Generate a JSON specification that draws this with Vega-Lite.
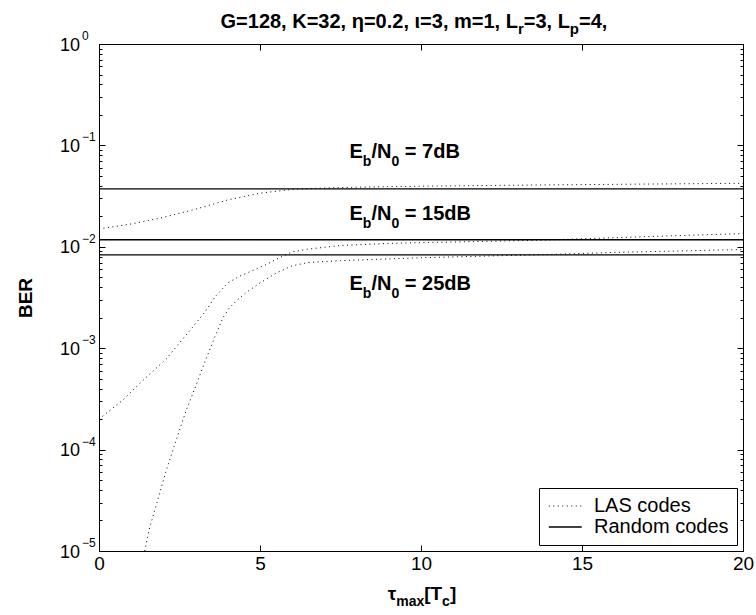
{
  "$schema": "https://vega.github.io/schema/vega-lite/v6.json",
  "autosize": {"type": "none"},
  "width": 644,
  "height": 507,
  "padding": {"left": 99, "top": 44, "right": 13, "bottom": 64},
  "background": "white",
  "config": {
    "view": {"stroke": "black", "strokeWidth": 1},
    "font": "Liberation Sans",
    "axis": {"grid": false, "domainColor": "black", "tickColor": "black", "labelColor": "black", "titleColor": "black", "labelFont": "Liberation Sans", "titleFont": "Liberation Sans"},
    "legend": {"orient": "bottom-right", "offset": 6, "strokeColor": "black", "fillColor": "white", "padding": 8, "symbolType": "M-1,0H3", "symbolSize": 272, "symbolStrokeColor": "black", "symbolStrokeWidth": 1, "labelFontSize": 20, "labelFont": "Liberation Sans", "labelColor": "black", "rowPadding": 1, "labelOffset": 27}
  },
  "datasets": {
    "curves": [
      {"x": 0, "ber": 0.0150, "series": "LAS7", "type": "LAS codes"},
      {"x": 1, "ber": 0.0168, "series": "LAS7", "type": "LAS codes"},
      {"x": 2, "ber": 0.0195, "series": "LAS7", "type": "LAS codes"},
      {"x": 3, "ber": 0.0235, "series": "LAS7", "type": "LAS codes"},
      {"x": 4, "ber": 0.0290, "series": "LAS7", "type": "LAS codes"},
      {"x": 5, "ber": 0.0338, "series": "LAS7", "type": "LAS codes"},
      {"x": 6, "ber": 0.0368, "series": "LAS7", "type": "LAS codes"},
      {"x": 7, "ber": 0.0380, "series": "LAS7", "type": "LAS codes"},
      {"x": 8, "ber": 0.0387, "series": "LAS7", "type": "LAS codes"},
      {"x": 9, "ber": 0.0392, "series": "LAS7", "type": "LAS codes"},
      {"x": 10, "ber": 0.0396, "series": "LAS7", "type": "LAS codes"},
      {"x": 12, "ber": 0.0402, "series": "LAS7", "type": "LAS codes"},
      {"x": 14, "ber": 0.0408, "series": "LAS7", "type": "LAS codes"},
      {"x": 16, "ber": 0.0413, "series": "LAS7", "type": "LAS codes"},
      {"x": 18, "ber": 0.0418, "series": "LAS7", "type": "LAS codes"},
      {"x": 20, "ber": 0.0423, "series": "LAS7", "type": "LAS codes"},
      {"x": 0, "ber": 0.00020, "series": "LAS15", "type": "LAS codes"},
      {"x": 0.75, "ber": 0.00031, "series": "LAS15", "type": "LAS codes"},
      {"x": 1.33, "ber": 0.00047, "series": "LAS15", "type": "LAS codes"},
      {"x": 2.1, "ber": 0.00079, "series": "LAS15", "type": "LAS codes"},
      {"x": 2.46, "ber": 0.00109, "series": "LAS15", "type": "LAS codes"},
      {"x": 2.9, "ber": 0.0016, "series": "LAS15", "type": "LAS codes"},
      {"x": 3.3, "ber": 0.0023, "series": "LAS15", "type": "LAS codes"},
      {"x": 3.6, "ber": 0.0032, "series": "LAS15", "type": "LAS codes"},
      {"x": 4.0, "ber": 0.0044, "series": "LAS15", "type": "LAS codes"},
      {"x": 4.35, "ber": 0.0051, "series": "LAS15", "type": "LAS codes"},
      {"x": 4.7, "ber": 0.0057, "series": "LAS15", "type": "LAS codes"},
      {"x": 5.2, "ber": 0.0067, "series": "LAS15", "type": "LAS codes"},
      {"x": 5.6, "ber": 0.0078, "series": "LAS15", "type": "LAS codes"},
      {"x": 6.0, "ber": 0.0089, "series": "LAS15", "type": "LAS codes"},
      {"x": 6.5, "ber": 0.0095, "series": "LAS15", "type": "LAS codes"},
      {"x": 7.5, "ber": 0.0103, "series": "LAS15", "type": "LAS codes"},
      {"x": 9, "ber": 0.0108, "series": "LAS15", "type": "LAS codes"},
      {"x": 10, "ber": 0.0110, "series": "LAS15", "type": "LAS codes"},
      {"x": 12, "ber": 0.0113, "series": "LAS15", "type": "LAS codes"},
      {"x": 14, "ber": 0.0117, "series": "LAS15", "type": "LAS codes"},
      {"x": 16, "ber": 0.0123, "series": "LAS15", "type": "LAS codes"},
      {"x": 18, "ber": 0.0129, "series": "LAS15", "type": "LAS codes"},
      {"x": 20, "ber": 0.0135, "series": "LAS15", "type": "LAS codes"},
      {"x": 1.42, "ber": 0.00001, "series": "LAS25", "type": "LAS codes"},
      {"x": 1.55, "ber": 0.000016, "series": "LAS25", "type": "LAS codes"},
      {"x": 1.8, "ber": 0.00003, "series": "LAS25", "type": "LAS codes"},
      {"x": 2.1, "ber": 0.000064, "series": "LAS25", "type": "LAS codes"},
      {"x": 2.4, "ber": 0.000125, "series": "LAS25", "type": "LAS codes"},
      {"x": 2.7, "ber": 0.00024, "series": "LAS25", "type": "LAS codes"},
      {"x": 3.0, "ber": 0.00042, "series": "LAS25", "type": "LAS codes"},
      {"x": 3.3, "ber": 0.00075, "series": "LAS25", "type": "LAS codes"},
      {"x": 3.6, "ber": 0.0013, "series": "LAS25", "type": "LAS codes"},
      {"x": 3.85, "ber": 0.0020, "series": "LAS25", "type": "LAS codes"},
      {"x": 4.05, "ber": 0.0025, "series": "LAS25", "type": "LAS codes"},
      {"x": 4.3, "ber": 0.0030, "series": "LAS25", "type": "LAS codes"},
      {"x": 4.6, "ber": 0.0036, "series": "LAS25", "type": "LAS codes"},
      {"x": 5.0, "ber": 0.0044, "series": "LAS25", "type": "LAS codes"},
      {"x": 5.5, "ber": 0.0055, "series": "LAS25", "type": "LAS codes"},
      {"x": 6.0, "ber": 0.0065, "series": "LAS25", "type": "LAS codes"},
      {"x": 6.5, "ber": 0.0070, "series": "LAS25", "type": "LAS codes"},
      {"x": 7.5, "ber": 0.0073, "series": "LAS25", "type": "LAS codes"},
      {"x": 9, "ber": 0.0076, "series": "LAS25", "type": "LAS codes"},
      {"x": 10, "ber": 0.0078, "series": "LAS25", "type": "LAS codes"},
      {"x": 12, "ber": 0.0081, "series": "LAS25", "type": "LAS codes"},
      {"x": 14, "ber": 0.0084, "series": "LAS25", "type": "LAS codes"},
      {"x": 16, "ber": 0.0088, "series": "LAS25", "type": "LAS codes"},
      {"x": 18, "ber": 0.0091, "series": "LAS25", "type": "LAS codes"},
      {"x": 20, "ber": 0.0094, "series": "LAS25", "type": "LAS codes"},
      {"x": 0, "ber": 0.0373, "series": "R7", "type": "Random codes"},
      {"x": 20, "ber": 0.0373, "series": "R7", "type": "Random codes"},
      {"x": 0, "ber": 0.01173, "series": "R15", "type": "Random codes"},
      {"x": 20, "ber": 0.01173, "series": "R15", "type": "Random codes"},
      {"x": 0, "ber": 0.00833, "series": "R25", "type": "Random codes"},
      {"x": 20, "ber": 0.00833, "series": "R25", "type": "Random codes"}
    ],
    "ylabels": [
      {"v": 1, "e": "0"},
      {"v": 0.1, "e": "−1"},
      {"v": 0.01, "e": "−2"},
      {"v": 0.001, "e": "−3"},
      {"v": 0.0001, "e": "−4"},
      {"v": 0.00001, "e": "−5"}
    ],
    "snr": [
      {"x": 7.78, "y": 0.0757, "p1": "E", "p2": "b", "p3": "/N", "p4": "0", "p5": "= 7dB"},
      {"x": 7.78, "y": 0.01836, "p1": "E", "p2": "b", "p3": "/N", "p4": "0", "p5": "= 15dB"},
      {"x": 7.78, "y": 0.00371, "p1": "E", "p2": "b", "p3": "/N", "p4": "0", "p5": "= 25dB"}
    ],
    "ttl": [
      {"x": 13.01, "y": 1, "p1": "G=128, K=32, η=0.2, ι=3, m=1, L", "p2": "r", "p3": "=3, L", "p4": "p", "p5": "=4,"}
    ],
    "xttl": [
      {"x": 9.23, "y": 0.00001, "p1": "τ", "p2": "max", "p3": "[T", "p4": "c", "p5": "]"}
    ]
  },
  "layer": [
    {
      "data": {"name": "curves"},
      "mark": {"type": "line", "color": "black", "clip": true},
      "encoding": {
        "x": {"field": "x", "type": "quantitative", "scale": {"domain": [0, 20], "nice": false},
              "axis": {"values": [0, 5, 10, 15, 20], "tickSize": -6, "labelFontSize": 19, "labelPadding": 9, "labelFlush": false, "labelOverlap": false, "title": null}},
        "y": {"field": "ber", "type": "quantitative", "scale": {"type": "log", "domain": [0.00001, 1], "nice": false},
              "axis": {"values": [0.00001,0.00002,0.00003,0.00004,0.00005,0.00006,0.00007,0.00008,0.00009,0.0001,0.0002,0.0003,0.0004,0.0005,0.0006,0.0007,0.0008,0.0009,0.001,0.002,0.003,0.004,0.005,0.006,0.007,0.008,0.009,0.01,0.02,0.03,0.04,0.05,0.06,0.07,0.08,0.09,0.1,0.2,0.3,0.4,0.5,0.6,0.7,0.8,0.9,1],
                       "labels": false,
                       "tickSize": {"condition": {"test": "abs(log(datum.value)/LN10 - round(log(datum.value)/LN10)) < 0.01", "value": -6}, "value": -3},
                       "title": "BER", "titleFontSize": 19, "titleFontWeight": "bold", "titlePadding": 63}},
        "strokeDash": {"field": "type", "type": "nominal", "scale": {"domain": ["LAS codes", "Random codes"], "range": [[1, 3.5], [1, 0]]}, "legend": {"title": null}},
        "strokeWidth": {"field": "type", "type": "nominal", "scale": {"domain": ["LAS codes", "Random codes"], "range": [1, 1.4]}, "legend": null},
        "detail": {"field": "series"}
      }
    },
    {
      "data": {"name": "curves"},
      "mark": {"type": "point", "opacity": 0},
      "encoding": {
        "x": {"field": "x", "type": "quantitative",
              "axis": {"orient": "top", "values": [0, 5, 10, 15, 20], "tickSize": -6, "labels": false, "title": null, "domain": false}},
        "y": {"field": "ber", "type": "quantitative",
              "axis": {"orient": "right", "values": [0.00001,0.00002,0.00003,0.00004,0.00005,0.00006,0.00007,0.00008,0.00009,0.0001,0.0002,0.0003,0.0004,0.0005,0.0006,0.0007,0.0008,0.0009,0.001,0.002,0.003,0.004,0.005,0.006,0.007,0.008,0.009,0.01,0.02,0.03,0.04,0.05,0.06,0.07,0.08,0.09,0.1,0.2,0.3,0.4,0.5,0.6,0.7,0.8,0.9,1],
                       "labels": false, "domain": false, "title": null,
                       "tickSize": {"condition": {"test": "abs(log(datum.value)/LN10 - round(log(datum.value)/LN10)) < 0.01", "value": -6}, "value": -3}}}
      }
    },
    {
      "data": {"name": "ylabels"},
      "mark": {"type": "text", "align": "right", "baseline": "middle", "dx": -19, "dy": 1.5, "fontSize": 18, "color": "black"},
      "encoding": {
        "x": {"datum": 0, "type": "quantitative", "axis": null},
        "y": {"field": "v", "type": "quantitative", "axis": null},
        "text": {"value": "10"}
      }
    },
    {
      "data": {"name": "ylabels"},
      "mark": {"type": "text", "align": "left", "baseline": "middle", "dx": -17, "dy": -8, "fontSize": 12, "color": "black"},
      "encoding": {
        "x": {"datum": 0, "type": "quantitative", "axis": null},
        "y": {"field": "v", "type": "quantitative", "axis": null},
        "text": {"field": "e"}
      }
    },
    {
      "data": {"name": "snr"},
      "mark": {"type": "text", "align": "left", "baseline": "alphabetic", "dx": 0, "fontSize": 20, "fontWeight": "bold", "color": "black"},
      "encoding": {"x": {"field": "x", "type": "quantitative", "axis": null}, "y": {"field": "y", "type": "quantitative", "axis": null}, "text": {"field": "p1"}}
    },
    {
      "data": {"name": "snr"},
      "mark": {"type": "text", "align": "left", "baseline": "alphabetic", "dx": 13.3, "dy": 8, "fontSize": 14, "fontWeight": "bold", "color": "black"},
      "encoding": {"x": {"field": "x", "type": "quantitative", "axis": null}, "y": {"field": "y", "type": "quantitative", "axis": null}, "text": {"field": "p2"}}
    },
    {
      "data": {"name": "snr"},
      "mark": {"type": "text", "align": "left", "baseline": "alphabetic", "dx": 21.9, "fontSize": 20, "fontWeight": "bold", "color": "black"},
      "encoding": {"x": {"field": "x", "type": "quantitative", "axis": null}, "y": {"field": "y", "type": "quantitative", "axis": null}, "text": {"field": "p3"}}
    },
    {
      "data": {"name": "snr"},
      "mark": {"type": "text", "align": "left", "baseline": "alphabetic", "dx": 41.9, "dy": 8, "fontSize": 14, "fontWeight": "bold", "color": "black"},
      "encoding": {"x": {"field": "x", "type": "quantitative", "axis": null}, "y": {"field": "y", "type": "quantitative", "axis": null}, "text": {"field": "p4"}}
    },
    {
      "data": {"name": "snr"},
      "mark": {"type": "text", "align": "left", "baseline": "alphabetic", "dx": 55.3, "fontSize": 20, "fontWeight": "bold", "color": "black"},
      "encoding": {"x": {"field": "x", "type": "quantitative", "axis": null}, "y": {"field": "y", "type": "quantitative", "axis": null}, "text": {"field": "p5"}}
    },
    {
      "data": {"name": "ttl"},
      "mark": {"type": "text", "align": "right", "baseline": "alphabetic", "dx": 0, "dy": -16, "fontSize": 20, "fontWeight": "bold", "color": "black"},
      "encoding": {"x": {"field": "x", "type": "quantitative", "axis": null}, "y": {"field": "y", "type": "quantitative", "axis": null}, "text": {"field": "p1"}}
    },
    {
      "data": {"name": "ttl"},
      "mark": {"type": "text", "align": "left", "baseline": "alphabetic", "dx": 0, "dy": -10, "fontSize": 15, "fontWeight": "bold", "color": "black"},
      "encoding": {"x": {"field": "x", "type": "quantitative", "axis": null}, "y": {"field": "y", "type": "quantitative", "axis": null}, "text": {"field": "p2"}}
    },
    {
      "data": {"name": "ttl"},
      "mark": {"type": "text", "align": "left", "baseline": "alphabetic", "dx": 5.8, "dy": -16, "fontSize": 20, "fontWeight": "bold", "color": "black"},
      "encoding": {"x": {"field": "x", "type": "quantitative", "axis": null}, "y": {"field": "y", "type": "quantitative", "axis": null}, "text": {"field": "p3"}}
    },
    {
      "data": {"name": "ttl"},
      "mark": {"type": "text", "align": "left", "baseline": "alphabetic", "dx": 51.9, "dy": -10, "fontSize": 15, "fontWeight": "bold", "color": "black"},
      "encoding": {"x": {"field": "x", "type": "quantitative", "axis": null}, "y": {"field": "y", "type": "quantitative", "axis": null}, "text": {"field": "p4"}}
    },
    {
      "data": {"name": "ttl"},
      "mark": {"type": "text", "align": "left", "baseline": "alphabetic", "dx": 61.1, "dy": -16, "fontSize": 20, "fontWeight": "bold", "color": "black"},
      "encoding": {"x": {"field": "x", "type": "quantitative", "axis": null}, "y": {"field": "y", "type": "quantitative", "axis": null}, "text": {"field": "p5"}}
    },
    {
      "data": {"name": "xttl"},
      "mark": {"type": "text", "align": "right", "baseline": "alphabetic", "dx": 0, "dy": 49, "fontSize": 19, "fontWeight": "bold", "color": "black"},
      "encoding": {"x": {"field": "x", "type": "quantitative", "axis": null}, "y": {"field": "y", "type": "quantitative", "axis": null}, "text": {"field": "p1"}}
    },
    {
      "data": {"name": "xttl"},
      "mark": {"type": "text", "align": "left", "baseline": "alphabetic", "dx": 0, "dy": 55, "fontSize": 14, "fontWeight": "bold", "color": "black"},
      "encoding": {"x": {"field": "x", "type": "quantitative", "axis": null}, "y": {"field": "y", "type": "quantitative", "axis": null}, "text": {"field": "p2"}}
    },
    {
      "data": {"name": "xttl"},
      "mark": {"type": "text", "align": "left", "baseline": "alphabetic", "dx": 28, "dy": 49, "fontSize": 19, "fontWeight": "bold", "color": "black"},
      "encoding": {"x": {"field": "x", "type": "quantitative", "axis": null}, "y": {"field": "y", "type": "quantitative", "axis": null}, "text": {"field": "p3"}}
    },
    {
      "data": {"name": "xttl"},
      "mark": {"type": "text", "align": "left", "baseline": "alphabetic", "dx": 45.9, "dy": 55, "fontSize": 14, "fontWeight": "bold", "color": "black"},
      "encoding": {"x": {"field": "x", "type": "quantitative", "axis": null}, "y": {"field": "y", "type": "quantitative", "axis": null}, "text": {"field": "p4"}}
    },
    {
      "data": {"name": "xttl"},
      "mark": {"type": "text", "align": "left", "baseline": "alphabetic", "dx": 53.7, "dy": 49, "fontSize": 19, "fontWeight": "bold", "color": "black"},
      "encoding": {"x": {"field": "x", "type": "quantitative", "axis": null}, "y": {"field": "y", "type": "quantitative", "axis": null}, "text": {"field": "p5"}}
    }
  ],
  "resolve": {"axis": {"x": "independent", "y": "independent"}}
}
